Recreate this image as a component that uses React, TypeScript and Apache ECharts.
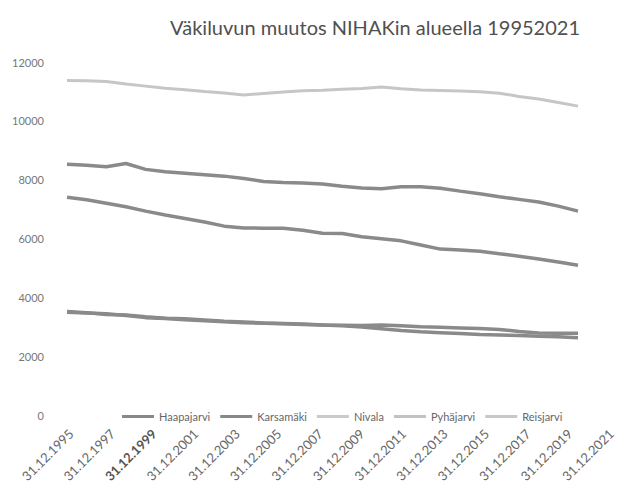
import React, { useEffect, useRef } from "react";
import * as echarts from "echarts";

const years = [
  "1995", "1996", "1997", "1998", "1999", "2000", "2001", "2002", "2003",
  "2004", "2005", "2006", "2007", "2008", "2009", "2010", "2011", "2012",
  "2013", "2014", "2015", "2016", "2017", "2018", "2019", "2020", "2021",
];

const tickLabels = [
  "31.12.1995", "31.12.1997", "31.12.1999", "31.12.2001", "31.12.2003",
  "31.12.2005", "31.12.2007", "31.12.2009", "31.12.2011", "31.12.2013",
  "31.12.2015", "31.12.2017", "31.12.2019", "31.12.2021",
];

const haapajarvi = [
  8520, 8490, 8440, 8550, 8350, 8270, 8220, 8170, 8120, 8040, 7940, 7900, 7890,
  7850, 7780, 7720, 7690, 7760, 7760, 7710, 7610, 7520, 7420, 7330, 7240, 7100, 6930,
];
const karsamaki = [
  3520, 3480, 3420, 3400, 3340, 3290, 3270, 3230, 3190, 3160, 3130, 3110, 3090,
  3060, 3030, 2990, 2930, 2870, 2830, 2800, 2770, 2740, 2720, 2700, 2680, 2660, 2630,
];
const nivala = [
  11370, 11360, 11340, 11250, 11180, 11110, 11060, 11000, 10950, 10880, 10930,
  10980, 11020, 11040, 11070, 11100, 11150, 11090, 11050, 11030, 11010, 10990,
  10940, 10830, 10740, 10620, 10500,
];
const pyhajarvi = [
  7400, 7320, 7200, 7080, 6930, 6800, 6680, 6560, 6420, 6360, 6350, 6350, 6280,
  6180, 6170, 6060, 5990, 5920, 5780, 5640, 5610, 5570, 5480, 5400, 5300, 5200, 5090,
];
const reisjarvi = [
  3490, 3470, 3440, 3380, 3310, 3280, 3240, 3200, 3170, 3140, 3120, 3100, 3080,
  3060, 3050, 3040, 3060, 3030, 3000, 2980, 2960, 2940, 2910, 2840, 2790, 2780, 2780,
];

const seriesNames = ["Haapajarvi", "Karsamäki", "Nivala", "Pyhäjarvi", "Reisjarvi"];
const seriesData = [haapajarvi, karsamaki, nivala, pyhajarvi, reisjarvi];
const lineColors = ["#8a8a8a", "#8a8a8a", "#c6c6c6", "#8a8a8a", "#8a8a8a"];
const legendColors = ["#888888", "#888888", "#cacaca", "#c2c2c2", "#c8c8c8"];

export default function App() {
  const ref = useRef<HTMLDivElement>(null);
  useEffect(() => {
    if (!ref.current) return;
    const chart = echarts.init(ref.current, undefined, { renderer: "svg" });
    const font = "Lato";
    chart.setOption({
      animation: false,
      backgroundColor: "#ffffff",
      title: {
        text: "Väkiluvun muutos NIHAKin alueella 19952021",
        left: 170,
        top: 17,
        padding: 0,
        textStyle: { fontFamily: font, fontSize: 20, fontWeight: "normal", color: "#505050" },
      },
      legend: {
        left: 117,
        top: 406,
        icon: "rect",
        itemWidth: 32,
        itemHeight: 3,
        itemGap: 10,
        textStyle: { fontFamily: font, fontSize: 11, color: "#666666" },
        data: seriesNames.map((n, i) => ({ name: n, itemStyle: { color: legendColors[i] } })),
      },
      grid: [
        { left: 67, right: 40, top: 62, bottom: 70, containLabel: false },
        { left: 71, right: 6, top: 62, bottom: 70, containLabel: false },
      ],
      xAxis: [
        {
          type: "category",
          gridIndex: 0,
          data: years,
          boundaryGap: false,
          axisLine: { show: false },
          axisTick: { show: false },
          axisLabel: { show: false },
          splitLine: { show: false },
        },
        {
          type: "category",
          gridIndex: 1,
          data: tickLabels,
          boundaryGap: false,
          axisLine: { show: false },
          axisTick: { show: false },
          splitLine: { show: false },
          axisLabel: {
            rotate: 45,
            margin: 20,
            interval: 0,
            fontFamily: font,
            fontSize: 13,
            color: "#666666",
            formatter: (v: string) => (v === "31.12.1999" ? "{b|" + v + "}" : v),
            rich: { b: { fontFamily: font, fontSize: 13, fontWeight: "bold", color: "#555555" } },
          },
        },
      ],
      yAxis: [
        {
          type: "value",
          gridIndex: 0,
          min: 0,
          max: 12000,
          interval: 2000,
          axisLine: { show: false },
          axisTick: { show: false },
          splitLine: { show: false },
          axisLabel: {
            margin: 23,
            fontFamily: font,
            fontSize: 11,
            color: "#777777",
            formatter: (v: number) => String(v),
          },
        },
        { type: "value", gridIndex: 1, show: false, min: 0, max: 12000 },
      ],
      series: seriesNames.map((n, i) => ({
        name: n,
        type: "line",
        xAxisIndex: 0,
        yAxisIndex: 0,
        data: seriesData[i],
        showSymbol: false,
        symbol: "none",
        lineStyle: { color: lineColors[i], width: i === 2 ? 3 : 3.5 },
        itemStyle: { color: lineColors[i] },
      })),
    });
    return () => chart.dispose();
  }, []);
  return (
    <div
      ref={ref}
      style={{ position: "fixed", left: 0, top: 0, width: 618, height: 485, background: "#fff" }}
    />
  );
}
